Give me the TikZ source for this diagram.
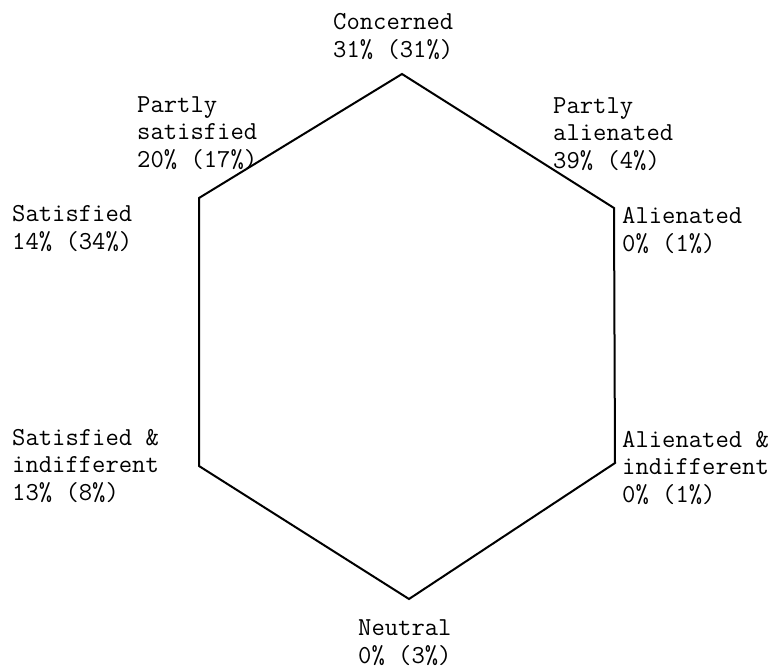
\documentclass[tikz,border=0pt]{standalone}
\begin{document}
\begin{tikzpicture}[x=1pt,y=-1pt,
  lbl/.style={inner sep=0pt, align=left, font=\fontsize{25.9}{27.5}\ttfamily\selectfont},
  edge/.style={line width=2pt, line join=miter}]
\useasboundingbox (0,0) rectangle (772,670);
% hexagon corners
\coordinate (top) at (402,74);
\coordinate (ur) at (614,208);
\coordinate (lr) at (615,463);
\coordinate (bot) at (409,599);
\coordinate (ll) at (199,466);
\coordinate (ul) at (199,198);
\draw[edge] (top) -- (ur) -- (lr) -- (bot) -- (ll) -- (ul) -- cycle;
% labels (anchored at the baseline of the last line)
\node[lbl, anchor=base west] (concerned) at (333,57) {Concerned\\31\% (31\%)};
\node[lbl, anchor=base west] (psat) at (137,167) {Partly\\satisfied\\20\% (17\%)};
\node[lbl, anchor=base west] (palien) at (553,168) {Partly\\alienated\\39\% (4\%)};
\node[lbl, anchor=base west] (sat) at (12,249) {Satisfied\\14\% (34\%)};
\node[lbl, anchor=base west] (alien) at (622,251) {Alienated\\0\% (1\%)};
\node[lbl, anchor=base west] (satind) at (12,500) {Satisfied \&\\indifferent\\13\% (8\%)};
\node[lbl, anchor=base west] (alind) at (622,502) {Alienated \&\\indifferent\\0\% (1\%)};
\node[lbl, anchor=base west] (neutral) at (358,663) {Neutral\\0\% (3\%)};
\end{tikzpicture}
\end{document}
